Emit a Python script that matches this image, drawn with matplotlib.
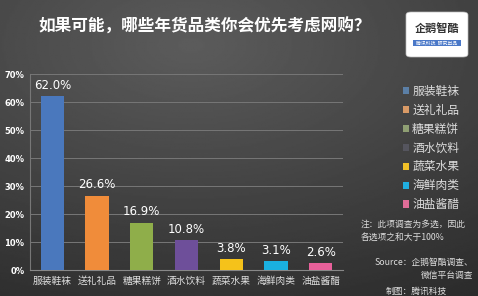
import numpy as np
import matplotlib
matplotlib.use("Agg")
import matplotlib.pyplot as plt
from matplotlib.patches import Patch, FancyBboxPatch

plt.rcParams['font.family'] = ['Noto Sans CJK SC', 'DejaVu Sans']

categories = ["服装鞋袜", "送礼礼品", "糖果糕饼", "酒水饮料", "蔬菜水果", "海鲜肉类", "油盐酱醋"]
values = [62.0, 26.6, 16.9, 10.8, 3.8, 3.1, 2.6]
bar_colors = ["#4a78bd", "#f08c3a", "#8fae4a", "#6e4f9a", "#f5c21a", "#1ab0e0", "#e8609a"]
legend_colors = ["#5b7fa6", "#d99a66", "#8f9f73", "#55555e", "#f0c028", "#20aee0", "#e06d98"]
yticks = [0, 10, 20, 30, 40, 50, 60, 70]
title = "如果可能，哪些年货品类你会优先考虑网购？"

W, H = 478, 296
fig = plt.figure(figsize=(W/100, H/100), dpi=100)

# background gradient
bg = fig.add_axes([0, 0, 1, 1], zorder=-10)
yy, xx = np.mgrid[0:1:200j, 0:1:300j]
r = np.sqrt(((xx-0.4)/1.0)**2 + ((yy-0.15)/0.9)**2)
img = 0.36 - 0.17*r
bg.imshow(img, cmap='gray', vmin=0, vmax=1, aspect='auto', extent=[0, 1, 0, 1], origin='upper')
bg.set_axis_off()

ax = fig.add_axes([30/W, 1-270/H, (343-30)/W, (270-74)/H])
ax.set_facecolor('none')
x = np.arange(len(categories))
ax.bar(x, values, width=0.52, color=bar_colors, zorder=3)
for xi, v in zip(x, values):
    ax.text(xi, v + 1.5, f"{v:.1f}%", ha='center', va='bottom', color='white', fontsize=8.5, family='DejaVu Sans')
ax.set_xlim(-0.5, len(categories)-0.5)
ax.set_ylim(0, 70)
ax.set_yticks(yticks)
ax.set_yticklabels([f"{t}%" for t in yticks], color='white', fontsize=6, fontweight='bold', family='DejaVu Sans')
ax.set_xticks(x)
ax.set_xticklabels(categories, color='#dddddd', fontsize=7)
ax.tick_params(length=0, pad=4)
ax.grid(axis='y', color='#777777', linewidth=0.7, zorder=0)
for s in ['top', 'right']:
    ax.spines[s].set_visible(False)
ax.spines['left'].set_color('#777777')
ax.spines['bottom'].set_color('#888888')

fig.text(205/W, 1-27/H, title, ha='center', va='center', color='white', fontsize=12, fontweight='bold')

handles = [Patch(facecolor=c, edgecolor='none') for c in legend_colors]
leg = fig.legend(handles, categories, loc='upper left', bbox_to_anchor=(398/W, 1-80/H),
                 frameon=False, fontsize=8.5, labelcolor='#dddddd', handlelength=0.55, handleheight=0.55,
                 handletextpad=0.25, labelspacing=0.5, borderaxespad=0)

fig.text(361/W, 1-231/H, "注：此项调查为多选，因此\n各选项之和大于100%", ha='left', va='center',
         color='#dddddd', fontsize=6.3, style='italic', linespacing=1.5)
fig.text(473/W, 1-269/H, "Source：企鹅智酷调查、\n微信平台调查", ha='right', va='center',
         color='#dddddd', fontsize=6.3, style='italic', linespacing=1.5)
fig.text(386/W, 1-291/H, "制图：腾讯科技", ha='left', va='center', color='#dddddd', fontsize=6.3, style='italic')

# logo
logo = FancyBboxPatch((406/W, 1-57/H), 62/W, 45/H, boxstyle="round,pad=0,rounding_size=0.01",
                      transform=fig.transFigure, facecolor='white', edgecolor='#bbbbbb', linewidth=0.5)
fig.add_artist(logo)
fig.text(437/W, 1-28/H, "企鹅智酷", ha='center', va='center', color='#333333', fontsize=8, fontweight='bold')
band = FancyBboxPatch((413/W, 1-46/H), 48/W, 6/H, boxstyle="square,pad=0",
                      transform=fig.transFigure, facecolor='#4a78c8', edgecolor='none')
fig.add_artist(band)
fig.text(437/W, 1-43/H, "腾讯科技  研究出品", ha='center', va='center', color='white', fontsize=3.5)

fig.savefig("out.png", dpi=100)
